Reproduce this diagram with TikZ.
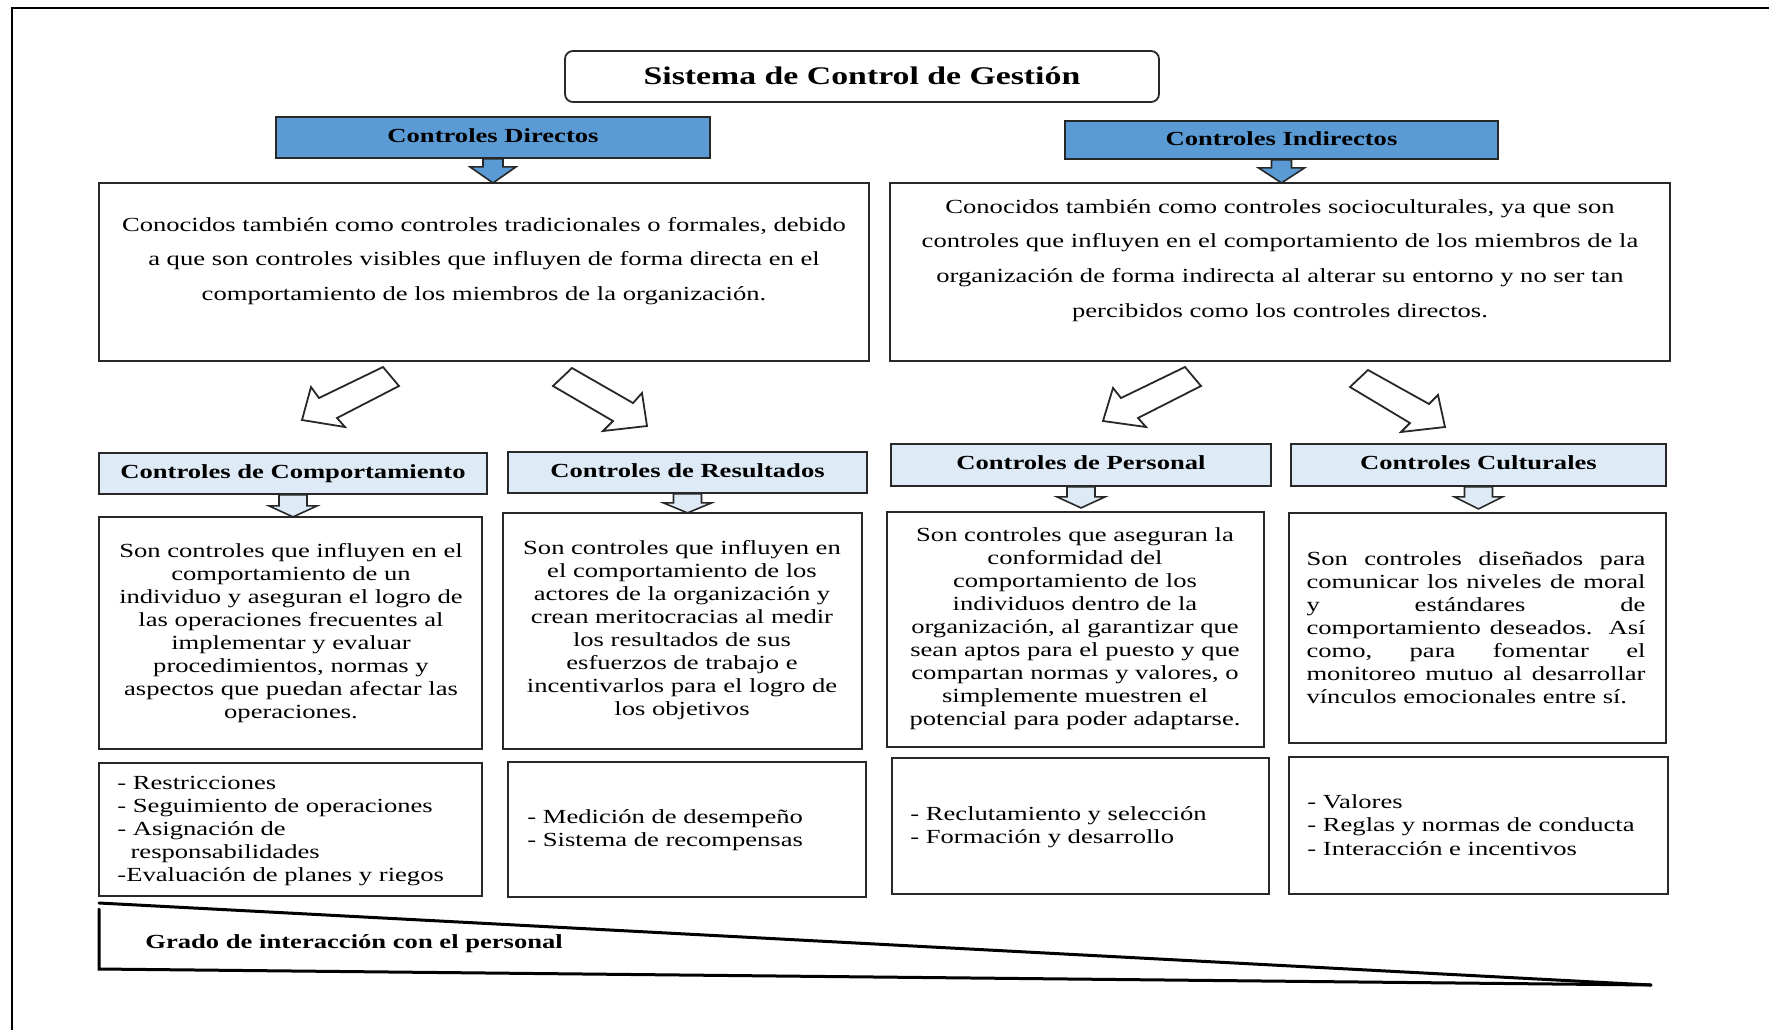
\documentclass[tikz,border=0pt]{standalone}
\usepackage{fontspec}
\setmainfont{Liberation Serif}[FakeStretch=1.33]
\usetikzlibrary{fit,calc}
\definecolor{dirblue}{RGB}{91,155,213}
\definecolor{hdrblue}{RGB}{222,235,247}
\definecolor{edge}{RGB}{40,40,40}
% block arrow pointing down: style, start, shaft length, total length, shaft half-width, head half-width
\newcommand\dnarrow[6]{%
  \draw[#1] (#2) ++(-#5,0) -- ++(0,#3) -- ++(#5-#6,0) -- ++(#6,#4-#3)
    -- ++(#6,-#4+#3) -- ++(#5-#6,0) -- ++(0,-#3) -- cycle;}
\begin{document}
\begin{tikzpicture}[x=0.5pt,y=-0.5pt,
  frameline/.style={line width=1.4pt,black},
  titlebox/.style={draw=edge,line width=0.9pt,rounded corners=4pt,inner sep=0pt},
  titletext/.style={inner sep=0pt,font=\fontsize{12.7}{15}\selectfont\bfseries},
  mainhdr/.style={draw=edge,line width=0.9pt,fill=dirblue,inner sep=0pt},
  subhdr/.style={draw=edge,line width=0.9pt,fill=hdrblue,inner sep=0pt},
  hdrtext/.style={inner sep=0pt,font=\fontsize{10}{12}\selectfont\bfseries},
  plainbox/.style={draw=edge,line width=0.9pt,inner sep=0pt},
  widetext/.style={inner sep=0pt,align=center,font=\fontsize{10}{17.4}\selectfont},
  bodytext/.style={inner sep=0pt,align=center,font=\fontsize{10}{11.5}\selectfont},
  listtext/.style={inner sep=0pt,align=left,anchor=west,font=\fontsize{10}{11.6}\selectfont},
  bluearrow/.style={draw=edge,line width=0.8pt,fill=dirblue},
  palearrow/.style={draw=edge,line width=0.8pt,fill=hdrblue},
  openarrow/.style={draw=edge,line width=0.9pt,fill=white,line join=miter},
  wedge/.style={line width=1.5pt,black,line cap=round}]
\useasboundingbox (0,0) rectangle (1769,1030);

% outer frame (top and left edges)
\draw[frameline] (12,1030) -- (12,8) -- (1769,8);

% title
\node[titlebox,fit={(565,51) (1159,102)}] (title) {};
\node[titletext] (titletxt) at ($(title.center)+(0,-1)$) {Sistema de Control de Gestión};

% direct / indirect controls
\node[mainhdr,fit={(276,117) (710,158)}] (dir) {};
\node[mainhdr,fit={(1065,121) (1498,159)}] (ind) {};
\node[hdrtext] (dirlbl) at ($(dir.center)+(0,-2)$) {Controles Directos};
\node[hdrtext] (indlbl) at ($(ind.center)+(0,-1)$) {Controles Indirectos};

\node[plainbox,fit={(99,183) (869,361)}] (dirdesc) {};
\node[plainbox,fit={(890,183) (1670,361)}] (inddesc) {};

\dnarrow{bluearrow}{dir.south}{8}{24}{10}{23}
\dnarrow{bluearrow}{ind.south}{8}{23}{10}{23}

\node[widetext] (dirtxt) at (484,261) {Conocidos también como controles tradicionales o formales, debido\\
a que son controles visibles que influyen de forma directa en el\\
comportamiento de los miembros de la organización.};
\node[widetext] (indtxt) at (1280,260.5) {Conocidos también como controles socioculturales, ya que son\\
controles que influyen en el comportamiento de los miembros de la\\
organización de forma indirecta al alterar su entorno y no ser tan\\
percibidos como los controles directos.};

% open block arrows towards the four control types
\draw[openarrow] (383,367) -- (399,386) -- (337,418) -- (345,427) -- (302,420) -- (311,387) -- (319,398) -- cycle;
\draw[openarrow] (572,368) -- (553,386) -- (613,421) -- (603,431) -- (647,426) -- (642,393) -- (633,403) -- cycle;
\draw[openarrow] (1185,367) -- (1201,386) -- (1138,418) -- (1146,427) -- (1103,421) -- (1113,388) -- (1121,398) -- cycle;
\draw[openarrow] (1368,370) -- (1350,387) -- (1410,423) -- (1401,432) -- (1445,427) -- (1438,395) -- (1429,404) -- cycle;

% control type headers
\node[subhdr,fit={(99,453) (487,494)}] (comp) {};
\node[subhdr,fit={(508,452) (867,493)}] (res) {};
\node[subhdr,fit={(891,444) (1271,486)}] (pers) {};
\node[subhdr,fit={(1291,444) (1666,486)}] (cult) {};
\node[hdrtext] (complbl) at (comp.center) {Controles de Comportamiento};
\node[hdrtext] (reslbl) at ($(res.center)+(0,-2)$) {Controles de Resultados};
\node[hdrtext] (perslbl) at ($(pers.center)+(0,-2)$) {Controles de Personal};
\node[hdrtext] (cultlbl) at ($(cult.center)+(0,-2)$) {Controles Culturales};

% descriptions
\node[plainbox,fit={(99,517) (482,749)}] (compdesc) {};
\node[plainbox,fit={(503,513) (862,749)}] (resdesc) {};
\node[plainbox,fit={(887,512) (1264,747)}] (persdesc) {};
\node[plainbox,fit={(1289,513) (1666,743)}] (cultdesc) {};

\dnarrow{palearrow}{comp.south}{11}{22}{14}{24}
\dnarrow{palearrow}{res.south}{9}{19}{14}{24}
\dnarrow{palearrow}{pers.south}{10}{21}{14}{24}
\dnarrow{palearrow}{cult.south}{10}{22}{14}{24}

\node[bodytext] (comptxt) at (291,633) {Son controles que influyen en el\\
comportamiento de un\\
individuo y aseguran el logro de\\
las operaciones frecuentes al\\
implementar y evaluar\\
procedimientos, normas y\\
aspectos que puedan afectar las\\
operaciones.};
\node[bodytext] (restxt) at (682,630.5) {Son controles que influyen en\\
el comportamiento de los\\
actores de la organización y\\
crean meritocracias al medir\\
los resultados de sus\\
esfuerzos de trabajo e\\
incentivarlos para el logro de\\
los objetivos};
\node[bodytext] (perstxt) at (1075,628.5) {Son controles que aseguran la\\
conformidad del\\
comportamiento de los\\
individuos dentro de la\\
organización, al garantizar que\\
sean aptos para el puesto y que\\
compartan normas y valores, o\\
simplemente muestren el\\
potencial para poder adaptarse.};
\node[bodytext,align=left] (culttxt) at (1476,627.5) {\makebox[169.5pt][s]{Son controles diseñados para}\\
\makebox[169.5pt][s]{comunicar los niveles de moral}\\
\makebox[169.5pt][s]{y\hfill estándares\hfill de}\\
\makebox[169.5pt][s]{comportamiento deseados. Así}\\
\makebox[169.5pt][s]{como,\hfill para\hfill fomentar\hfill el}\\
\makebox[169.5pt][s]{monitoreo mutuo al desarrollar}\\
\makebox[169.5pt][l]{vínculos emocionales entre sí.}};

% lists of mechanisms
\node[plainbox,fit={(99,763) (482,896)}] (complist) {};
\node[plainbox,fit={(508,762) (866,897)}] (reslist) {};
\node[plainbox,fit={(892,758) (1269,894)}] (perslist) {};
\node[plainbox,fit={(1289,757) (1668,894)}] (cultlist) {};

\node[listtext] (complisttxt) at (117,831) {- Restricciones\\
- Seguimiento de operaciones\\
- Asignación de\\
\hspace*{6.6pt}responsabilidades\\
-Evaluación de planes y riegos};
\node[listtext] (reslisttxt) at (527,830.5) {- Medición de desempeño\\
- Sistema de recompensas};
\node[listtext] (perslisttxt) at (910,827) {- Reclutamiento y selección\\
- Formación y desarrollo};
\node[listtext] (cultlisttxt) at (1307,825) {- Valores\\
- Reglas y normas de conducta\\
- Interacción e incentivos};

% decreasing wedge: degree of interaction with staff
\coordinate (wtop) at (99,903);
\coordinate (wleft) at (99,909);
\coordinate (wbot) at (99,969);
\coordinate (wend) at (1651,985);
\draw[wedge] (wtop) -- (wend);
\draw[wedge,line join=miter] (wleft) -- (wbot) -- (wend);
\node[inner sep=0pt,anchor=west,font=\fontsize{10}{12}\selectfont\bfseries] (wlabel) at (145,944) {Grado de interacción con el personal};
\end{tikzpicture}
\end{document}
